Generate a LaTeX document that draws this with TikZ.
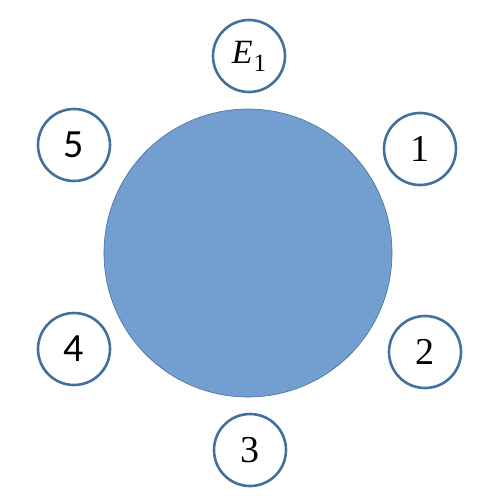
\documentclass[tikz,border=0pt]{standalone}
\usepackage{fontspec}
\setmainfont{Liberation Serif}
\newfontfamily\sansf{Carlito}
\definecolor{ringblue}{HTML}{41719C}
\definecolor{fillblue}{HTML}{729FCF}
\begin{document}
\begin{tikzpicture}[x=1pt,y=-1pt,
  small/.style={circle,draw=ringblue,line width=2.6pt,fill=white,minimum size=72pt,inner sep=0pt,font=\fontsize{38}{38}\selectfont},
  big/.style={circle,draw=ringblue,line width=0.6pt,fill=fillblue,minimum size=288pt,inner sep=0pt}]
\useasboundingbox (0,0) rectangle (500,499);
\node[big] (c) at (248,253) {};
\node[small,font=\fontsize{34}{34}\selectfont] (e1) at (249,56) {\textit{E}\kern1pt\raisebox{-8pt}{\fontsize{25}{25}\selectfont 1}};
\node[small] (n1) at (420,149) {1};
\node[small] (n2) at (425,352) {2};
\node[small] (n3) at (250,450) {3};
\node[small,font=\fontsize{40}{40}\selectfont] (n4) at (74,349) {\sansf 4};
\node[small,font=\fontsize{40}{40}\selectfont] (n5) at (74,145) {\sansf 5};
\end{tikzpicture}
\end{document}
